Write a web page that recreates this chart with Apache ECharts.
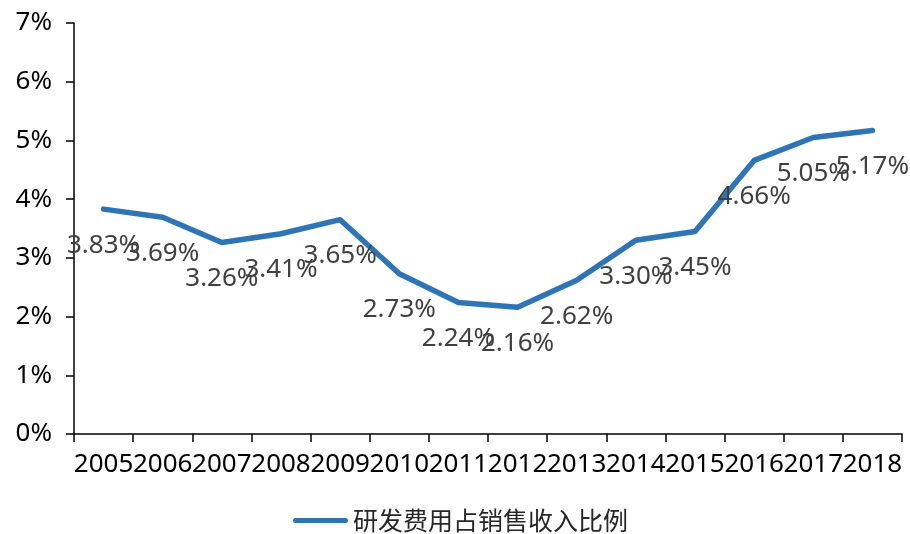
<!DOCTYPE html>
<html>
<head>
<meta charset="utf-8">
<script src="https://cdn.jsdelivr.net/npm/echarts@6/dist/echarts.min.js"></script>
<style>
  html, body { margin: 0; padding: 0; background: #fff; }
  #chart { width: 910px; height: 534px; }
</style>
</head>
<body>
<div id="chart"></div>
<script>
// Years on the category axis
const years = ['2005', '2006', '2007', '2008', '2009', '2010', '2011',
               '2012', '2013', '2014', '2015', '2016', '2017', '2018'];
// R&D spending as a share of sales revenue, in percent
const rdRatio = [3.83, 3.69, 3.26, 3.41, 3.65, 2.73, 2.24,
                 2.16, 2.62, 3.30, 3.45, 4.66, 5.05, 5.17];
const seriesName = '研发费用占销售收入比例';
// Value-axis range and step, in percent
const yMin = 0, yMax = 7, yStep = 1;

const FONT = '"Noto Sans", "DejaVu Sans", sans-serif';
const BLUE = '#2e75b6';

const chart = echarts.init(document.getElementById('chart'), null, { renderer: 'canvas' });
chart.setOption({
  animation: false,
  backgroundColor: '#ffffff',
  grid: { left: 74, right: 8, top: 23, bottom: 100, containLabel: false },
  legend: {
    data: [{
      name: seriesName,
      icon: 'path://M2.5,0 H52.5 A2.5,2.5 0 0 1 52.5,5 H2.5 A2.5,2.5 0 0 1 2.5,0 Z'
    }],
    left: 288,
    top: 503,
    itemWidth: 55,
    itemHeight: 5,
    itemGap: 6,
    textStyle: { fontFamily: '"Noto Sans CJK SC", sans-serif', fontSize: 25, color: '#262626' }
  },
  xAxis: {
    type: 'category',
    data: years,
    boundaryGap: true,
    axisLine: { lineStyle: { color: '#000', width: 1.5 } },
    axisTick: { show: true, length: 8, inside: false, lineStyle: { color: '#000', width: 1.5 } },
    axisLabel: { interval: 0, margin: 18, fontFamily: FONT, fontSize: 26, color: '#000' },
    splitLine: { show: false }
  },
  yAxis: {
    type: 'value',
    min: yMin,
    max: yMax,
    interval: yStep,
    axisLine: { show: true, lineStyle: { color: '#000', width: 1.5 } },
    axisTick: { show: true, length: 8, lineStyle: { color: '#000', width: 1.5 } },
    axisLabel: { margin: 22, fontFamily: FONT, fontSize: 26, color: '#000', formatter: '{value}%' },
    splitLine: { show: false }
  },
  series: [{
    name: seriesName,
    type: 'line',
    data: rdRatio,
    symbol: 'circle',
    symbolSize: 0.1,
    itemStyle: { color: BLUE },
    lineStyle: { color: BLUE, width: 5.5, cap: 'round', join: 'round' },
    label: {
      show: true,
      position: 'bottom',
      distance: 23,
      fontFamily: FONT,
      fontSize: 26,
      color: '#404040',
      formatter: p => p.value.toFixed(2) + '%'
    }
  }]
});
</script>
</body>
</html>
